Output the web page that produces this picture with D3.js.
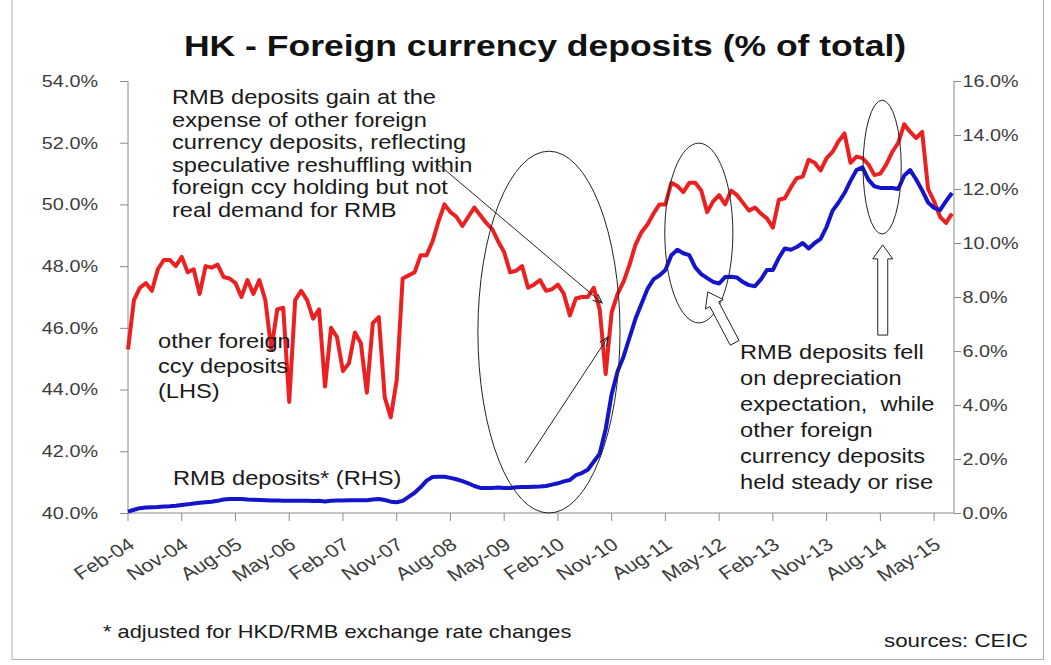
<!DOCTYPE html>
<html><head><meta charset="utf-8">
<script src="https://cdn.jsdelivr.net/npm/d3@7"></script>
<style>
html,body{margin:0;padding:0;background:#fff;}
svg{display:block;font-family:"Liberation Sans",Arial,sans-serif;}
</style></head><body>
<svg id="chart" width="1051" height="665"></svg>
<script>
// Monthly categories, Feb-04 .. Aug-15
const months = d3.timeMonth.range(new Date(2004, 1, 1), new Date(2015, 8, 1));
const monthLabels = months.map(d3.timeFormat("%b-%y"));

// Other foreign currency deposits, % of total (LHS)
const otherFx = [
  45.3, 46.9, 47.3, 47.45, 47.2, 47.9, 48.2, 48.2, 48.0, 48.3,
  47.8, 47.9, 47.1, 48.0, 47.95, 48.05, 47.65, 47.6, 47.45, 47.0,
  47.55, 47.1, 47.55, 46.9, 45.3, 46.6, 46.65, 43.6, 46.9, 47.2,
  46.9, 46.3, 46.6, 44.1, 46.0, 45.7, 44.6, 44.85, 45.85, 45.5,
  43.9, 46.15, 46.35, 43.75, 43.1, 44.3, 47.6, 47.7, 47.8, 48.35,
  48.35, 48.8, 49.45, 50.0, 49.75, 49.6, 49.3, 49.6, 49.9, 49.65,
  49.4, 49.2, 48.8, 48.45, 47.8, 47.85, 48.0, 47.3, 47.4, 47.55,
  47.2, 47.25, 47.4, 47.1, 46.4, 46.95, 47.0, 47.0, 47.3, 46.6,
  44.5, 46.5, 47.1, 47.5, 48.05, 48.7, 49.1, 49.35, 49.7, 50.0,
  50.0, 50.7, 50.6, 50.4, 50.7, 50.7, 50.45, 49.75, 50.1, 50.3,
  50.0, 50.45, 50.3, 50.05, 49.8, 49.9, 49.7, 49.55, 49.25, 50.15,
  50.2, 50.55, 50.85, 50.9, 51.45, 51.35, 51.1, 51.5, 51.7, 52.05,
  52.3, 51.35, 51.55, 51.5, 51.3, 50.95, 51.0, 51.3, 51.7, 52.0,
  52.6, 52.35, 52.15, 52.35, 50.5, 50.1, 49.6, 49.4, 49.7
];

// RMB deposits (adjusted), % of total (RHS)
const rmbDeposits = [
  0.05, 0.12, 0.18, 0.2, 0.21, 0.22, 0.24, 0.25, 0.27, 0.3,
  0.32, 0.35, 0.38, 0.4, 0.42, 0.45, 0.5, 0.52, 0.52, 0.52,
  0.5, 0.49, 0.48, 0.47, 0.46, 0.46, 0.45, 0.45, 0.45, 0.45,
  0.45, 0.44, 0.45, 0.43, 0.45, 0.46, 0.46, 0.47, 0.47, 0.47,
  0.47, 0.5, 0.52, 0.48, 0.42, 0.4, 0.45, 0.6, 0.75, 0.95,
  1.2, 1.33, 1.34, 1.34, 1.3, 1.25, 1.18, 1.1, 1.0, 0.93,
  0.93, 0.93, 0.94, 0.93, 0.93, 0.95, 0.96, 0.96, 0.97, 0.98,
  1.0, 1.05, 1.1, 1.17, 1.22, 1.4, 1.48, 1.6, 1.9, 2.2,
  3.1, 4.4, 5.25, 5.8, 6.5, 7.2, 7.75, 8.3, 8.65, 8.8,
  9.0, 9.55, 9.75, 9.62, 9.55, 9.1, 8.85, 8.7, 8.56, 8.5,
  8.74, 8.75, 8.72, 8.55, 8.44, 8.4, 8.65, 9.0, 9.0, 9.45,
  9.8, 9.75, 9.85, 10.0, 9.8, 10.0, 10.15, 10.6, 11.2, 11.5,
  11.85, 12.3, 12.7, 12.8, 12.35, 12.1, 12.04, 12.04, 12.04, 12.0,
  12.5, 12.7, 12.35, 11.95, 11.5, 11.3, 11.22, 11.55, 11.85
];

const xTickLabels = ["Feb-04","Nov-04","Aug-05","May-06","Feb-07","Nov-07","Aug-08","May-09",
  "Feb-10","Nov-10","Aug-11","May-12","Feb-13","Nov-13","Aug-14","May-15"];
const leftTicks = [40, 42, 44, 46, 48, 50, 52, 54];
const rightTicks = [0, 2, 4, 6, 8, 10, 12, 14, 16];

const noteTopLines = ["RMB deposits gain at the", "expense of other foreign",
  "currency deposits, reflecting", "speculative reshuffling within",
  "foreign ccy holding but not", "real demand for RMB"];
const noteRightLines = ["RMB deposits fell", "on depreciation", "expectation,  while",
  "other foreign", "currency deposits", "held steady or rise"];
const otherLabelLines = ["other foreign", "ccy deposits", "(LHS)"];

const SX = 1.2;           // horizontal text stretch
const TXT = "#1a1a1a";
const AXIS_TXT = "#3c3c3c";
const AXIS_LINE = "#8a8a8a";

const svg = d3.select("#chart");
const plot = {left: 128, right: 954, top: 81, bottom: 513};

const x = d3.scaleLinear().domain([0, months.length - 1]).range([128, 952]);
const yL = d3.scaleLinear().domain([40, 54]).range([plot.bottom, plot.top]);
const yR = d3.scaleLinear().domain([0, 16]).range([plot.bottom, plot.top]);

// frame
svg.append("path")
  .attr("d", `M12,-2 V659.5 H1043.5 V-2`)
  .attr("fill", "none").attr("stroke", "#b0b0b0").attr("stroke-width", 1);

// title
svg.append("g").attr("transform", `translate(545,56) scale(${SX},1)`)
  .append("text").attr("text-anchor", "middle")
  .attr("font-size", 29.6).attr("font-weight", "bold").attr("fill", "#111")
  .text("HK - Foreign currency deposits (% of total)");

// left axis
const gL = svg.append("g").attr("transform", `translate(${plot.left},0)`)
  .call(d3.axisLeft(yL).tickValues(leftTicks).tickSize(8).tickPadding(0)
    .tickFormat(d => d.toFixed(1) + "%"));
// right axis
const gR = svg.append("g").attr("transform", `translate(${plot.right},0)`)
  .call(d3.axisRight(yR).tickValues(rightTicks).tickSize(7).tickPadding(0)
    .tickFormat(d => d.toFixed(1) + "%"));
[gL, gR].forEach(g => {
  g.select(".domain").attr("stroke", AXIS_LINE);
  g.selectAll(".tick line").attr("stroke", AXIS_LINE);
  g.selectAll(".tick text").attr("font-size", 16.5).attr("fill", AXIS_TXT)
    .attr("font-family", "Liberation Sans, Arial, sans-serif");
});
gL.selectAll(".tick text").attr("x", -25).attr("transform", `scale(${SX},1)`);
gR.selectAll(".tick text").attr("x", 7).attr("transform", `scale(${SX},1)`);
gL.select(".domain").attr("d", `M0,${plot.top}V${plot.bottom}`);
gR.select(".domain").attr("d", `M0,${plot.top}V${plot.bottom}`);

// bottom axis
const tickIdx = xTickLabels.map(l => monthLabels.indexOf(l));
const gX = svg.append("g").attr("transform", `translate(0,${plot.bottom})`);
gX.append("line").attr("x1", plot.left).attr("x2", plot.right)
  .attr("stroke", AXIS_LINE);
gX.selectAll("line.tk").data(tickIdx).join("line").attr("class", "tk")
  .attr("x1", d => x(d)).attr("x2", d => x(d)).attr("y1", 0).attr("y2", 8)
  .attr("stroke", AXIS_LINE);
gX.selectAll("g.lbl").data(tickIdx).join("g").attr("class", "lbl")
  .attr("transform", d => `translate(${x(d) + 8},${34}) scale(${SX},1) rotate(-36)`)
  .append("text").attr("text-anchor", "end").attr("font-size", 18)
  .attr("fill", AXIS_TXT).text(d => monthLabels[d]);

// series
const lineL = d3.line().x((d, i) => x(i)).y(d => yL(d));
const lineR = d3.line().x((d, i) => x(i)).y(d => yR(d));
svg.append("path").datum(otherFx).attr("d", lineL)
  .attr("fill", "none").attr("stroke", "#ec2020").attr("stroke-width", 4)
  .attr("stroke-linejoin", "round");
svg.append("path").datum(rmbDeposits).attr("d", lineR)
  .attr("fill", "none").attr("stroke", "#1414cc").attr("stroke-width", 4)
  .attr("stroke-linejoin", "round");

// text blocks
function textBlock(lines, x0, y0, lh, size) {
  const g = svg.append("g").attr("transform", `translate(${x0},${y0}) scale(${SX},1)`);
  lines.forEach((t, k) => g.append("text").attr("x", 0).attr("y", k * lh)
    .attr("font-size", size).attr("fill", TXT).attr("xml:space", "preserve").text(t));
}
textBlock(noteTopLines, 172, 104, 22.6, 19.7);
textBlock(otherLabelLines, 158, 348, 25, 19.7);
textBlock(["RMB deposits* (RHS)"], 173, 485, 25, 19.7);
textBlock(noteRightLines, 740, 359, 26, 19.7);
textBlock(["* adjusted for HKD/RMB exchange rate changes"], 103, 638, 20, 18.2);
textBlock(["sources: CEIC"], 884, 647, 20, 18.6);

// ellipses (in month-index / RHS units)
const ellipses = [
  {i: 70.5, v: 6.7, di: 11.9, dv: 6.7},
  {i: 95.6, v: 10.37, di: 5.7, dv: 3.33},
  {i: 126.3, v: 12.81, di: 3.2, dv: 2.48}
];
svg.selectAll("ellipse.note").data(ellipses).join("ellipse").attr("class", "note")
  .attr("cx", d => x(d.i)).attr("cy", d => yR(d.v))
  .attr("rx", d => x(d.i + d.di) - x(d.i)).attr("ry", d => yR(0) - yR(d.dv))
  .attr("fill", "none").attr("stroke", "#222").attr("stroke-width", 1);

// thin arrows
svg.append("defs").append("marker").attr("id", "head")
  .attr("viewBox", "-10 -6 12 12").attr("refX", 0).attr("refY", 0)
  .attr("markerWidth", 12).attr("markerHeight", 12).attr("markerUnits", "userSpaceOnUse")
  .attr("orient", "auto")
  .append("path").attr("d", "M-9,-4 L0,0 L-9,4").attr("fill", "none").attr("stroke", "#222");
const pointers = [
  {from: [51.75, 12.96], to: [79.4, 7.78]},
  {from: [66.5, 1.85], to: [80.4, 6.52]}
];
svg.selectAll("line.ptr").data(pointers).join("line").attr("class", "ptr")
  .attr("x1", d => x(d.from[0])).attr("y1", d => yR(d.from[1]))
  .attr("x2", d => x(d.to[0])).attr("y2", d => yR(d.to[1]))
  .attr("stroke", "#222").attr("stroke-width", 1).attr("marker-end", "url(#head)");

// hollow block arrows
function blockArrow(tip, tail) {
  const T = [x(tip[0]), yR(tip[1])], B = [x(tail[0]), yR(tail[1])];
  const dx = T[0] - B[0], dy = T[1] - B[1], L = Math.hypot(dx, dy);
  const u = [dx / L, dy / L], n = [-u[1], u[0]];
  const hl = 14, hw = 10, sw = 5;
  const H = [T[0] - hl * u[0], T[1] - hl * u[1]];
  const p = (c, k) => [c[0] + k * n[0], c[1] + k * n[1]];
  const pts = [T, p(H, hw), p(H, sw), p(B, sw), p(B, -sw), p(H, -sw), p(H, -hw)];
  svg.append("path").attr("d", d3.line()(pts) + "Z")
    .attr("fill", "#fff").attr("stroke", "#222").attr("stroke-width", 1);
}
blockArrow([97.1, 8.19], [101.6, 6.3]);
blockArrow([126.4, 9.93], [126.4, 6.59]);
</script>
</body></html>
